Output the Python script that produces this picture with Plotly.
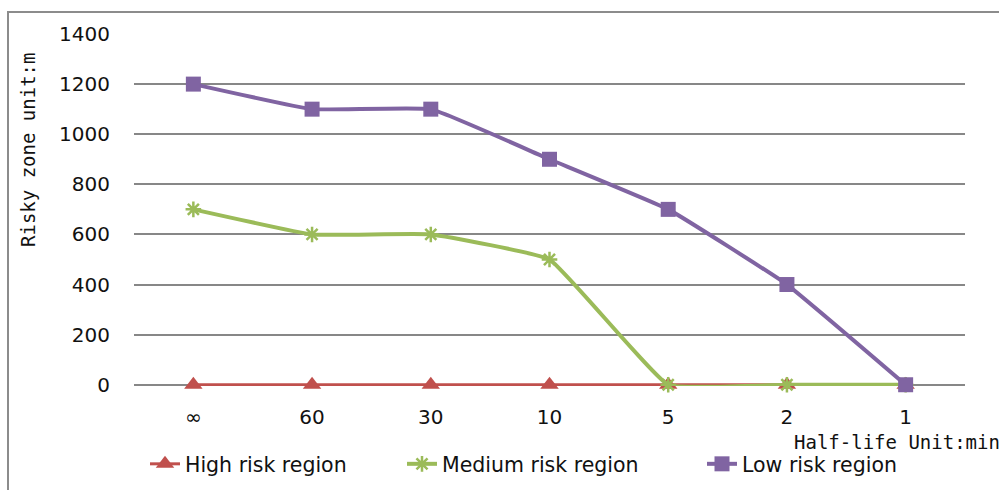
import plotly.graph_objects as go

# Half-life categories and risky zone distances (m)
half_life = ["∞", "60", "30", "10", "5", "2", "1"]
high_risk = [0, 0, 0, 0, 0, 0, 0]
medium_risk = [700, 600, 600, 500, 0, 0, 0]
low_risk = [1200, 1100, 1100, 900, 700, 400, 0]
y_ticks = [0, 200, 400, 600, 800, 1000, 1200, 1400]

RED = "#C0504D"
GREEN = "#9BBB59"
PURPLE = "#8064A2"
GRID = "#878787"

# plot-area geometry in pixels (used to place paper-coordinate decorations)
W, H = 999, 490
L, R, T, B = 134, 34, 34, 104
pw, ph = W - L - R, H - T - B


def px_x(x):
    return (x - L) / pw


def px_y(y):
    return (H - B - y) / ph


fig = go.Figure()

fig.add_trace(go.Scatter(
    x=half_life, y=high_risk, name="High risk region", mode="lines+markers",
    line=dict(color=RED, width=3),
    marker=dict(symbol="triangle-up", size=16, color=RED),
    cliponaxis=False, legend="legend",
))
fig.add_trace(go.Scatter(
    x=half_life, y=medium_risk, name="Medium risk region", mode="lines+markers",
    line=dict(color=GREEN, width=4, shape="spline", smoothing=0.3),
    marker=dict(symbol="asterisk-open", size=13, color=GREEN,
                line=dict(color=GREEN, width=2.5)),
    cliponaxis=False, legend="legend2",
))
fig.add_trace(go.Scatter(
    x=half_life, y=low_risk, name="Low risk region", mode="lines+markers",
    line=dict(color=PURPLE, width=4, shape="spline", smoothing=0.3),
    marker=dict(symbol="square", size=15, color=PURPLE),
    cliponaxis=False, legend="legend3",
))

legend_font = dict(family="DejaVu Sans", size=20.5, color="#111111")
legend_common = dict(orientation="h", yanchor="middle", xanchor="left",
                     font=legend_font, bgcolor="rgba(0,0,0,0)")

fig.update_layout(
    width=W, height=H,
    margin=dict(l=L, r=R, t=T, b=B, autoexpand=False),
    paper_bgcolor="white", plot_bgcolor="white",
    showlegend=True,
    legend=dict(x=px_x(145), y=px_y(464), **legend_common),
    legend2=dict(x=px_x(402), y=px_y(464), **legend_common),
    legend3=dict(x=px_x(702), y=px_y(464), **legend_common),
    xaxis=dict(
        type="category", range=[-0.5, 6.5],
        showgrid=False, zeroline=False, showline=False,
        ticks="outside", ticklen=13, tickcolor="rgba(0,0,0,0)",
        tickfont=dict(family="DejaVu Sans", size=20, color="#111111"),
    ),
    yaxis=dict(
        range=[-5, 1400], tickvals=y_ticks,
        showgrid=True, gridcolor=GRID, gridwidth=1.5,
        zeroline=False, showline=False,
        ticks="outside", ticklen=19, tickcolor="rgba(0,0,0,0)",
        tickfont=dict(family="DejaVu Sans", size=20, color="#111111"),
    ),
    annotations=[
        dict(text="Half-life Unit:min", xref="paper", yref="paper",
             x=px_x(792), y=px_y(442), xanchor="left", yanchor="middle",
             showarrow=False,
             font=dict(family="DejaVu Sans Mono", size=19, color="#111111")),
        dict(text="Risky zone unit:m", xref="paper", yref="paper",
             x=px_x(28), y=px_y(150), xanchor="center", yanchor="middle",
             textangle=-90, showarrow=False,
             font=dict(family="DejaVu Sans Mono", size=19, color="#111111")),
    ],
    shapes=[
        dict(type="rect", xref="paper", yref="paper",
             x0=px_x(8), y0=px_y(500), x1=px_x(1010), y1=px_y(12),
             line=dict(color="#8C8C8C", width=2), layer="below"),
    ],
)

fig.write_html("out.html")
